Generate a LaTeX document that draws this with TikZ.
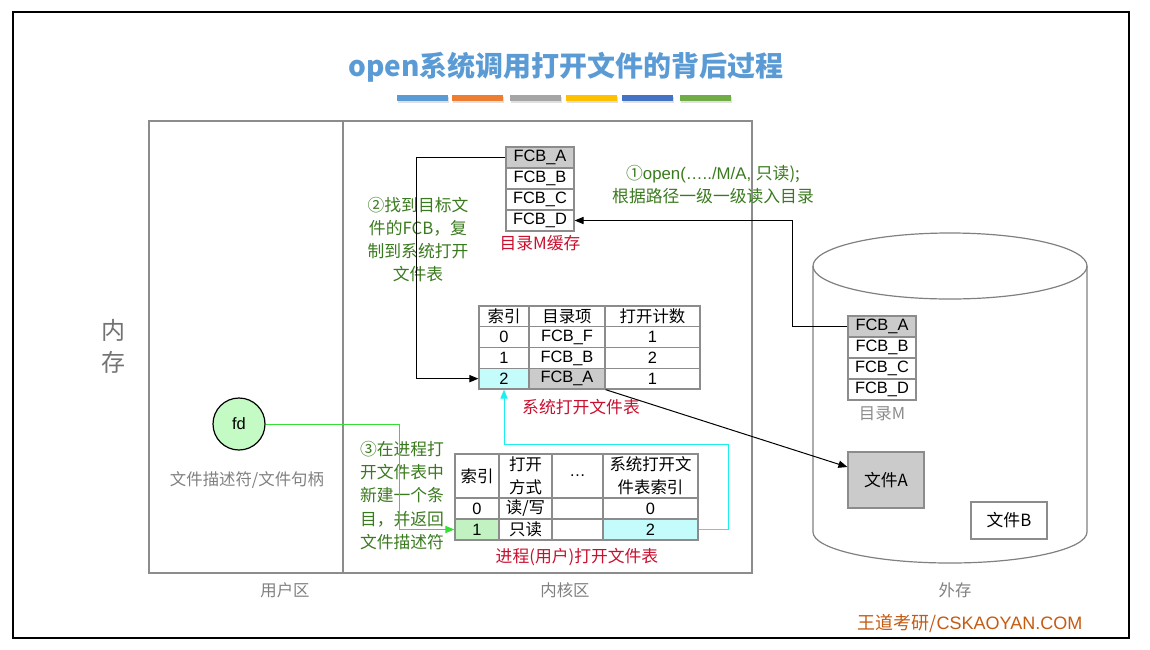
\documentclass[tikz,border=0pt]{standalone}
\usepackage{fontspec}
\setmainfont{Noto Sans CJK SC}
\newfontfamily\lat{Liberation Sans}
\usetikzlibrary{arrows.meta}
\definecolor{titleblue}{HTML}{5B9BD5}
\definecolor{barorange}{HTML}{ED7D31}
\definecolor{bargray}{HTML}{A5A5A5}
\definecolor{baryellow}{HTML}{FFC000}
\definecolor{barblue}{HTML}{4472C4}
\definecolor{bargreen}{HTML}{70AD47}
\definecolor{notegreen}{HTML}{3A7A1E}
\definecolor{tabred}{HTML}{C8102E}
\definecolor{cellcyan}{HTML}{C4FCFC}
\definecolor{cellgreen}{HTML}{C2F2C2}
\definecolor{cellgray}{HTML}{CBCBCB}
\definecolor{fdgreen}{HTML}{C4FAC4}
\definecolor{fdline}{HTML}{33E033}
\definecolor{cyanline}{HTML}{1AF0F0}
\definecolor{wdorange}{HTML}{C55A11}
\tikzset{
  cell/.style={draw=black!45, line width=0.6pt, inner sep=0pt, align=center,
    font=\fontsize{8.2}{10}\selectfont},
  fcb/.style={cell, minimum width=34pt, minimum height=10.5pt, font=\lat\fontsize{8.2}{10}\selectfont},
  note/.style={text=notegreen, font=\fontsize{8.4}{11.6}\selectfont, align=center},
  tablabel/.style={text=tabred, font=\fontsize{8.4}{10}\selectfont},
  arealabel/.style={text=black!50, font=\fontsize{8.2}{10}\selectfont},
  link/.style={line width=0.5pt, -{Triangle[length=4.5pt,width=3.6pt]}},
}
\begin{document}
\begin{tikzpicture}[x=0.5pt, y=-0.5pt]
  \useasboundingbox (0,0) rectangle (1150,649);
  \draw[line width=1.3pt] (13,12) rectangle (1129,638);

  % title and colour bars
  \node[text=titleblue, font=\bfseries\fontsize{14}{16}\selectfont] (title) at (566,67) {open系统调用打开文件的背后过程};
  \foreach \x/\c in {397/titleblue, 452/barorange, 510/bargray, 566/baryellow, 622/barblue, 680/bargreen} {
    \fill[black!12] (\x+1,97) rectangle ++(51,6);
    \fill[\c] (\x,95) rectangle ++(51,6);
  }

  % memory areas
  \draw[black!45, line width=0.8pt] (149,121) rectangle (752,573);
  \draw[black!45, line width=0.8pt] (343,121) -- (343,573);
  \node[text=black!55, font=\fontsize{12}{16}\selectfont, align=center] (mem) at (113,346) {内\\存};
  \node[arealabel] (userlbl) at (285,590) {用户区};
  \node[arealabel] (kernlbl) at (565,590) {内核区};
  \node[arealabel] (disklbl) at (955,590) {外存};

  % disk
  \draw[black!50, fill=white, line width=0.6pt] (813,266) -- (813,532) arc[start angle=180, end angle=360, x radius=68.5pt, y radius=15.5pt] -- (1087,266);
  \draw[black!50, line width=0.6pt] (950,266) ellipse [x radius=68.5pt, y radius=16.5pt];
  \foreach \t/\f [count=\i] in {A/cellgray, B/white, C/white, D/white}
    \node[fcb, fill=\f] (dfcb-\t) at (882,305.5+21*\i) {FCB\_\t};
  \node[arealabel, text=black!45] (dirlbl) at (882,414) {目录M};
  \node[cell, fill=cellgray, minimum width=38pt, minimum height=28pt, font=\fontsize{8.4}{10}\selectfont] (fileA) at (886,480) {文件A};
  \node[cell, fill=white, minimum width=38pt, minimum height=18.5pt, font=\fontsize{8.4}{10}\selectfont] (fileB) at (1009,520.5) {文件B};

  % directory M cache
  \foreach \t/\f [count=\i] in {A/cellgray, B/white, C/white, D/white}
    \node[fcb, fill=\f] (mfcb-\t) at (540,136.5+21*\i) {FCB\_\t};
  \node[tablabel] (cachelbl) at (540,243) {目录M缓存};

  % system open file table
  \node[cell, minimum width=25pt, minimum height=10.4pt] (sys-0-1) at (504,316.4) {索引};
  \node[cell, minimum width=38pt, minimum height=10.4pt] (sys-0-2) at (567,316.4) {目录项};
  \node[cell, minimum width=47.5pt, minimum height=10.4pt] (sys-0-3) at (652.5,316.4) {打开计数};
  \foreach \n/\d/\k/\fa/\fb [count=\i] in {0/FCB\_F/1/white/white, 1/FCB\_B/2/white/white, 2/FCB\_A/1/cellcyan/cellgray} {
    \node[fcb, fill=\fa, minimum width=25pt, minimum height=10.4pt] (sys-\i-1) at (504,316.4+20.75*\i) {\n};
    \node[fcb, fill=\fb, minimum width=38pt, minimum height=10.4pt] (sys-\i-2) at (567,316.4+20.75*\i) {\d};
    \node[fcb, minimum width=47.5pt, minimum height=10.4pt] (sys-\i-3) at (652.5,316.4+20.75*\i) {\k};
  }
  \node[tablabel] (syslbl) at (581,407) {系统打开文件表};

  % process open file table
  \node[cell, minimum width=22pt, minimum height=22pt] (proc-0-1) at (477,476) {索引};
  \node[cell, minimum width=26.5pt, minimum height=22pt, font=\fontsize{8.2}{11.5}\selectfont] (proc-0-2) at (525.5,476) {打开\\方式};
  \node[cell, minimum width=25.5pt, minimum height=22pt, font=\lat\fontsize{8.2}{10}\selectfont] (proc-0-3) at (577.5,476) {…};
  \node[cell, minimum width=47.5pt, minimum height=22pt, font=\fontsize{8.2}{11.5}\selectfont] (proc-0-4) at (650.5,476) {系统打开文\\件表索引};
  \foreach \n/\m/\s/\fa/\fb [count=\i] in {0/{读/写}/0/white/white, 1/只读/2/cellgreen/cellcyan} {
    \node[fcb, fill=\fa, minimum width=22pt] (proc-\i-1) at (477,498+21*\i-10.5) {\n};
    \node[cell, minimum width=26.5pt, minimum height=10.5pt] (proc-\i-2) at (525.5,498+21*\i-10.5) {\m};
    \node[cell, minimum width=25.5pt, minimum height=10.5pt] (proc-\i-3) at (577.5,498+21*\i-10.5) {};
    \node[fcb, fill=\fb, minimum width=47.5pt] (proc-\i-4) at (650.5,498+21*\i-10.5) {\s};
  }
  \node[tablabel] (proclbl) at (577,557) {进程(用户)打开文件表};

  % user side
  \node[circle, draw, fill=fdgreen, line width=0.6pt, minimum size=26pt, inner sep=0pt, font=\lat\fontsize{8.2}{10}\selectfont] (fd) at (239,424) {fd};
  \node[arealabel] (fdlbl) at (247,480) {文件描述符/文件句柄};

  % notes
  \node[note] (step1) at (713,185) {①{\lat open(…../M/A, }只读);\\根据路径一级一级读入目录};
  \node[note] (step2) at (418,239.5) {②找到目标文\\件的FCB，复\\制到系统打开\\文件表};
  \node[note, align=left] (step3) at (402,495.5) {③在进程打\\开文件表中\\新建一个条\\目，并返回\\文件描述符};

  % connectors
  \draw[link] (dfcb-A.west) -- ++(-55,0) |- (mfcb-D.east);
  \draw[link] (mfcb-A.west) -- ++(-89,0) |- (sys-3-1.west);
  \draw[link] (sys-3-2.south east) -- ([yshift=6.5pt]fileA.west);
  \draw[link, fdline] (fd.east) -- ++(134,0) |- (proc-2-1.west);
  \draw[link, cyanline] (proc-2-4.east) -- ++(30,0) -- ++(0,-85) -| (sys-3-1.south);

  \node[text=wdorange, font=\fontsize{9}{10}\selectfont] (mark) at (970,624) {王道考研/{\lat CSKAOYAN.COM}};
\end{tikzpicture}
\end{document}
